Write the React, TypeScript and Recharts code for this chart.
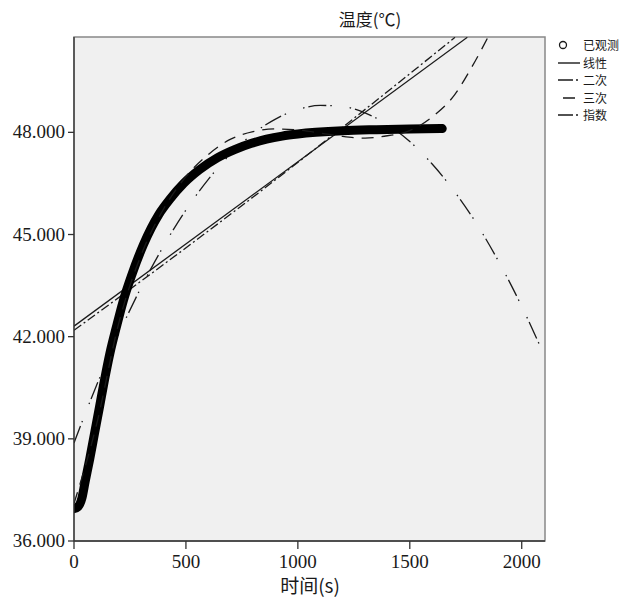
import { CartesianGrid, Line, LineChart, ReferenceArea, XAxis, YAxis } from "recharts";

// 时间(s) ticks / 温度 ticks
const xTicks = [0, 500, 1000, 1500, 2000];
const yTicks = [36, 39, 42, 45, 48];

// 已观测 (read along the thick band)
const observed = [
  { x: 0, y: 36.95 }, { x: 17, y: 37.0 }, { x: 35, y: 37.25 }, { x: 50, y: 37.75 },
  { x: 70, y: 38.4 }, { x: 92, y: 39.17 }, { x: 114, y: 39.94 }, { x: 136, y: 40.72 },
  { x: 160, y: 41.5 }, { x: 190, y: 42.3 }, { x: 220, y: 43.05 }, { x: 260, y: 43.85 },
  { x: 310, y: 44.7 }, { x: 380, y: 45.6 }, { x: 430, y: 46.05 }, { x: 490, y: 46.5 },
  { x: 560, y: 46.9 }, { x: 640, y: 47.25 }, { x: 720, y: 47.5 }, { x: 790, y: 47.67 },
  { x: 860, y: 47.8 }, { x: 930, y: 47.89 }, { x: 1000, y: 47.95 }, { x: 1080, y: 48.0 },
  { x: 1200, y: 48.05 }, { x: 1350, y: 48.08 }, { x: 1500, y: 48.1 }, { x: 1645, y: 48.11 },
];

// 线性
const linear = [{ x: 0, y: 42.31 }, { x: 1757, y: 50.79 }];

// 二次
const quadratic = [
  { x: 0, y: 38.88 }, { x: 100, y: 40.56 }, { x: 200, y: 42.08 }, { x: 300, y: 43.45 },
  { x: 400, y: 44.66 }, { x: 500, y: 45.72 }, { x: 600, y: 46.62 }, { x: 700, y: 47.37 },
  { x: 800, y: 47.96 }, { x: 900, y: 48.39 }, { x: 1000, y: 48.67 }, { x: 1100, y: 48.79 },
  { x: 1200, y: 48.76 }, { x: 1300, y: 48.57 }, { x: 1400, y: 48.23 }, { x: 1500, y: 47.73 },
  { x: 1600, y: 47.07 }, { x: 1700, y: 46.26 }, { x: 1800, y: 45.3 }, { x: 1900, y: 44.17 },
  { x: 2000, y: 42.89 }, { x: 2104, y: 41.4 },
];

// 三次
const cubic = [
  { x: 0, y: 37.1 }, { x: 100, y: 39.4 }, { x: 200, y: 42.4 }, { x: 300, y: 44.4 },
  { x: 400, y: 45.75 }, { x: 500, y: 46.7 }, { x: 600, y: 47.35 }, { x: 700, y: 47.8 },
  { x: 800, y: 48.02 }, { x: 900, y: 48.1 }, { x: 1000, y: 48.07 }, { x: 1100, y: 47.98 },
  { x: 1200, y: 47.88 }, { x: 1300, y: 47.83 }, { x: 1400, y: 47.9 }, { x: 1500, y: 48.05 },
  { x: 1600, y: 48.45 }, { x: 1700, y: 49.1 }, { x: 1780, y: 49.95 }, { x: 1849, y: 50.79 },
];

// 指数
const exponential = [
  { x: 0, y: 42.19 }, { x: 400, y: 44.12 }, { x: 800, y: 46.1 }, { x: 1200, y: 48.15 }, { x: 1702, y: 50.79 },
];

const INK = "#1a1a1a";
const SERIF = "Liberation Serif";
const CJK = "Noto Sans CJK SC";

const dash = {
  quad: "18 4 1.5 18 1.5 4",
  cubic: "12 8",
  exp: "9 3 2 3",
};

function XTick({ x, y, payload }: any) {
  return (
    <text x={x} y={y + 17} textAnchor="middle" fill={INK} fontSize={19} fontFamily={SERIF}>
      {payload.value}
    </text>
  );
}

function YTick({ x, y, payload }: any) {
  return (
    <text x={x - 1} y={y + 6} textAnchor="end" fill={INK} fontSize={19} fontFamily={SERIF}>
      {Number(payload.value).toFixed(3)}
    </text>
  );
}

function LegendRow({ kind, label, top }: { kind: string; label: string; top: number }) {
  return (
    <div style={{ position: "absolute", left: 555, top, height: 16, display: "flex", alignItems: "center" }}>
      <svg width={28} height={16}>
        {kind === "obs" ? (
          <circle cx={8} cy={8} r={3.5} fill="none" stroke={INK} strokeWidth={1.3} />
        ) : (
          <line
            x1={3} x2={25} y1={8} y2={8} stroke={INK} strokeWidth={1.4}
            strokeDasharray={kind === "lin" ? undefined : kind === "quad" ? "15 3 2 20" : kind === "cubic" ? "0 5 12 20" : "15 3 2 20"}
          />
        )}
      </svg>
      <span style={{ fontFamily: CJK, fontSize: 12, color: INK, lineHeight: "16px" }}>{label}</span>
    </div>
  );
}

export default function App() {
  return (
    <div style={{ position: "absolute", left: 0, top: 0, width: 630, height: 601, background: "#fff" }}>
      <div style={{ position: "absolute", left: 370, top: 8, transform: "translateX(-50%)", fontFamily: CJK, fontSize: 17, lineHeight: "22px", color: INK, whiteSpace: "nowrap" }}>
        温度(℃)
      </div>
      <LineChart width={630} height={601} margin={{ top: 37, right: 85, bottom: 30, left: 8 }}>
        <CartesianGrid fill="#f0f0f0" horizontal={false} vertical={false} />
        <XAxis
          type="number" dataKey="x" domain={[0, 2104]} ticks={xTicks} allowDataOverflow
          height={30} tickSize={8}
          axisLine={{ stroke: "#333", strokeWidth: 1.3 }} tickLine={{ stroke: "#333", strokeWidth: 1.3 }}
          tick={XTick}
        />
        <YAxis
          type="number" dataKey="y" domain={[36, 50.8]} ticks={yTicks} allowDataOverflow
          width={66} tickSize={6}
          axisLine={{ stroke: "#333", strokeWidth: 1.3 }} tickLine={{ stroke: "#333", strokeWidth: 1.3 }}
          tick={YTick}
        />
        <ReferenceArea x1={0} x2={2104} y1={36} y2={50.8} fill="none" stroke="#888" strokeWidth={1.5} ifOverflow="visible" />
        <Line data={quadratic} dataKey="y" type="monotone" stroke={INK} strokeWidth={1.3} strokeDasharray={dash.quad} dot={false} isAnimationActive={false} />
        <Line data={exponential} dataKey="y" type="monotone" stroke={INK} strokeWidth={1.3} strokeDasharray={dash.exp} dot={false} isAnimationActive={false} />
        <Line data={linear} dataKey="y" type="linear" stroke={INK} strokeWidth={1.3} dot={false} isAnimationActive={false} />
        <Line data={observed} dataKey="y" type="monotone" stroke="#000" strokeWidth={9} strokeLinecap="round" strokeLinejoin="round" dot={false} isAnimationActive={false} />
        <Line data={cubic} dataKey="y" type="monotone" stroke={INK} strokeWidth={1.3} strokeDasharray={dash.cubic} dot={false} isAnimationActive={false} />
      </LineChart>
      <div style={{ position: "absolute", left: 310, top: 574, transform: "translateX(-50%)", fontFamily: CJK, fontSize: 19, lineHeight: "21px", color: INK, whiteSpace: "nowrap" }}>
        时间(s)
      </div>
      <LegendRow kind="obs" label="已观测" top={37} />
      <LegendRow kind="lin" label="线性" top={54.5} />
      <LegendRow kind="quad" label="二次" top={72} />
      <LegendRow kind="cubic" label="三次" top={89.5} />
      <LegendRow kind="exp" label="指数" top={107} />
    </div>
  );
}
